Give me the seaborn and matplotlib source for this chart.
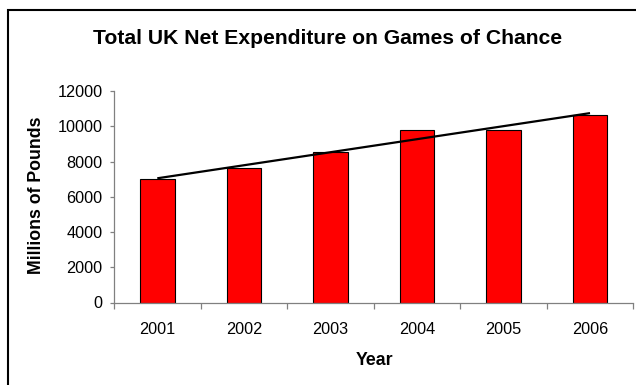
import numpy as np
import pandas as pd
import matplotlib
matplotlib.use("Agg")
import matplotlib.pyplot as plt
from matplotlib.patches import Rectangle
import seaborn as sns

# Net expenditure on games of chance, millions of pounds
years = ["2001", "2002", "2003", "2004", "2005", "2006"]
spend = [7000, 7650, 8525, 9780, 9760, 10660]
y_ticks = [0, 2000, 4000, 6000, 8000, 10000, 12000]

title = "Total UK Net Expenditure on Games of Chance"
x_label = "Year"
y_label = "Millions of Pounds"

sns.set_theme(style="white")
plt.rcParams["font.family"] = ["Liberation Sans", "DejaVu Sans"]
plt.rcParams["text.color"] = "black"

W, H, DPI = 636, 385, 100
fig = plt.figure(figsize=(W / DPI, H / DPI), dpi=DPI)
fig.patch.set_facecolor("white")

# plot area in pixel terms
left, right, top, bottom = 114, 633.3, 91, 302.5
ax = fig.add_axes([left / W, 1 - bottom / H, (right - left) / W, (bottom - top) / H])

df = pd.DataFrame({"year": years, "spend": spend})
sns.barplot(data=df, x="year", y="spend", color="#FF0000", saturation=1,
            width=0.4, edgecolor="black", linewidth=0.8, ax=ax)

# linear trend line across the years
xs = np.arange(len(years))
slope, intercept = np.polyfit(xs, np.array(spend, dtype=float), 1)
ax.plot(xs, slope * xs + intercept, color="black", lw=1.6, solid_capstyle="butt",
        zorder=5)

ax.set_xlim(-0.5, len(years) - 0.5)
ax.set_ylim(y_ticks[0], y_ticks[-1])
ax.set_yticks(y_ticks)
ax.set_yticklabels([str(t) for t in y_ticks])
ax.set_xticks(xs)
ax.set_xticklabels(years)
ax.set_xticks(np.arange(-0.5, len(years)), minor=True)
ax.set_xlabel("")
ax.set_ylabel("")

for side in ("top", "right"):
    ax.spines[side].set_visible(False)
for side in ("left", "bottom"):
    ax.spines[side].set_color("#808080")
    ax.spines[side].set_linewidth(0.9)

ax.tick_params(axis="y", which="major", left=True, length=3.1, width=0.9,
               color="#808080", pad=5, labelsize=11.7, labelcolor="black")
ax.tick_params(axis="x", which="major", bottom=True, length=0, pad=14,
               labelsize=11.7, labelcolor="black")
ax.tick_params(axis="x", which="minor", bottom=True, length=4, width=0.9,
               color="#808080")
ax.grid(False)

fig.text(327.5 / W, 1 - 44 / H, title, ha="center", va="baseline",
         fontsize=15.2, fontweight="bold")
fig.text(375 / W, 1 - 365 / H, x_label, ha="center", va="baseline",
         fontsize=12.8, fontweight="bold")
fig.text(37 / W, 1 - 195.5 / H, y_label, ha="center", va="center",
         rotation=90, fontsize=12.8, fontweight="bold")

# outer chart frame
fig.patches.append(Rectangle((8 / W, -0.2), 1.2, 1.2 - 10 / H,
                             transform=fig.transFigure, fill=False,
                             edgecolor="black", linewidth=1.5))

fig.savefig("out.png", dpi=DPI, facecolor="white")
